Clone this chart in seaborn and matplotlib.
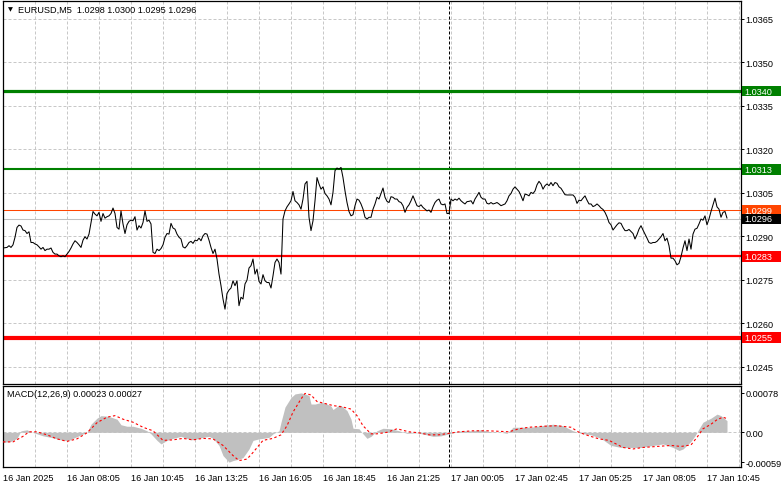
import numpy as np
import pandas as pd
import matplotlib
matplotlib.use("Agg")
import matplotlib.pyplot as plt
import matplotlib.transforms as mtransforms
from matplotlib.patches import Rectangle
import seaborn as sns

# ---------------- data ----------------
symbol_title = "EURUSD,M5  1.0298 1.0300 1.0295 1.0296"
macd_title = "MACD(12,26,9) 0.00023 0.00027"
start_time = "2025-01-16 05:25"

close = [
    1.02859, 1.02860, 1.02861, 1.02867, 1.02861, 1.02870, 1.02896, 1.02930, 1.02938, 1.02935,
    1.02921, 1.02919, 1.02909, 1.02915, 1.02878, 1.02878, 1.02873, 1.02870, 1.02863, 1.02855,
    1.02861, 1.02850, 1.02855, 1.02855, 1.02859, 1.02844, 1.02838, 1.02838, 1.02832, 1.02829,
    1.02832, 1.02829, 1.02838, 1.02847, 1.02859, 1.02873, 1.02884, 1.02878, 1.02870, 1.02861,
    1.02886, 1.02898, 1.02890, 1.02907, 1.02947, 1.02985, 1.02976, 1.02970, 1.02982, 1.02951,
    1.02978, 1.02962, 1.02967, 1.02970, 1.02978, 1.02997, 1.02978, 1.02930, 1.02924, 1.02987,
    1.02942, 1.02909, 1.02939, 1.02951, 1.02955, 1.02953, 1.02967, 1.02921, 1.02936, 1.02928,
    1.02947, 1.02987, 1.02951, 1.02955, 1.02942, 1.02844, 1.02840, 1.02855, 1.02850, 1.02857,
    1.02870, 1.02896, 1.02909, 1.02907, 1.02944, 1.02928, 1.02924, 1.02907, 1.02896, 1.02890,
    1.02863, 1.02859, 1.02867, 1.02878,
    1.02882, 1.02875, 1.02886, 1.02884, 1.02893, 1.02884, 1.02901, 1.02909, 1.02907, 1.02886,
    1.02861, 1.02840, 1.02855, 1.02821, 1.02769, 1.02729, 1.02683, 1.02648, 1.02702, 1.02714,
    1.02721, 1.02746, 1.02729, 1.02746, 1.02660, 1.02689, 1.02683, 1.02735, 1.02748, 1.02790,
    1.02798, 1.02821, 1.02769, 1.02786, 1.02744, 1.02735, 1.02767, 1.02746, 1.02740, 1.02740,
    1.02721, 1.02763, 1.02809, 1.02821, 1.02809, 1.02769, 1.02959, 1.02987, 1.03001, 1.03011,
    1.03022, 1.03054, 1.03022, 1.03016, 1.03008, 1.02993, 1.03028, 1.03080, 1.03089, 1.02965,
    1.02919, 1.02953, 1.03022, 1.03102, 1.03080, 1.03062, 1.03070, 1.03047, 1.03039, 1.03028,
    1.03008, 1.03051, 1.03126, 1.03135, 1.03131, 1.03137, 1.03102, 1.03056, 1.03016, 1.02985,
    1.02970, 1.02974, 1.03005, 1.03028, 1.03024, 1.03011, 1.02993, 1.02965, 1.02959, 1.02965,
    1.02965, 1.02993, 1.03011,
    1.03034, 1.03028, 1.03047, 1.03066, 1.03034, 1.03020, 1.03016, 1.03036, 1.03034, 1.03028,
    1.03028, 1.03019, 1.03016, 1.03005, 1.02982, 1.02999, 1.03008, 1.03022, 1.03039, 1.03022,
    1.03005, 1.03002, 1.03008, 1.02999, 1.02993, 1.02987, 1.02990, 1.02982, 1.03001, 1.03016,
    1.03024, 1.03028, 1.03011, 1.03008, 1.03011, 1.02978, 1.02978, 1.03028, 1.03022, 1.03028,
    1.03024, 1.03031, 1.03022, 1.03016, 1.03011, 1.03019, 1.03020, 1.03022, 1.03011, 1.03028,
    1.03039, 1.03051, 1.03034, 1.03028, 1.03028, 1.03013, 1.03011, 1.03016, 1.03011, 1.03013,
    1.03016, 1.03011, 1.03005, 1.03008, 1.03011, 1.03022, 1.03039, 1.03047, 1.03062, 1.03070,
    1.03062, 1.03054, 1.03039, 1.03022, 1.03045, 1.03043, 1.03039, 1.03051, 1.03047, 1.03056,
    1.03077, 1.03089, 1.03080, 1.03062, 1.03074, 1.03080, 1.03074, 1.03085, 1.03074, 1.03085,
    1.03082, 1.03070,
    1.03065, 1.03054, 1.03043, 1.03042, 1.03042, 1.03042, 1.03042, 1.03034, 1.03013, 1.03024,
    1.03022, 1.03031, 1.03039, 1.03024, 1.03011, 1.03011, 1.03002, 1.03005, 1.03011, 1.03005,
    1.02997, 1.02992, 1.02982, 1.02967, 1.02947, 1.02939, 1.02921, 1.02930, 1.02939, 1.02946,
    1.02944, 1.02930, 1.02919, 1.02919, 1.02923, 1.02916, 1.02909, 1.02890, 1.02905, 1.02924,
    1.02936, 1.02921, 1.02907, 1.02893, 1.02878, 1.02875, 1.02878, 1.02878, 1.02882, 1.02890,
    1.02898, 1.02909, 1.02884, 1.02893, 1.02867, 1.02824, 1.02824, 1.02815, 1.02801, 1.02806,
    1.02829, 1.02859, 1.02884, 1.02850, 1.02890, 1.02855, 1.02907, 1.02924, 1.02927, 1.02942,
    1.02959, 1.02955, 1.02970, 1.02939, 1.02959, 1.02985, 1.03008, 1.03031, 1.03001, 1.02993,
    1.02965, 1.02982, 1.02985, 1.02962,
]

level_values = [1.0340, 1.0313, 1.0283, 1.0255]
ask_price = 1.0299
bid_price = 1.0296

hist_bars = [0, 4, 7, 9, 12, 14, 17, 20, 24, 27, 30, 33, 35, 39, 42, 44, 47, 49, 52, 54,
             57, 59, 62, 65, 69, 72, 74, 77, 79, 82, 84, 87, 89, 92, 94, 97, 100, 103, 105, 108,
             110, 113, 115, 118, 120, 123, 125, 128, 130, 133, 135, 138, 139, 141, 144, 146, 149, 151, 153, 154,
             156, 159, 161, 164, 165, 168, 169, 172, 174, 175, 178, 180, 182, 184, 187, 190, 194, 198, 202, 207,
             212, 215, 219, 224, 229, 234, 239, 244, 249, 252, 255, 259, 264, 269, 275, 280, 285, 289, 294, 299,
             304, 309, 314, 319, 325, 330, 335, 338, 340, 344, 346, 348, 350, 354, 357, 359, 362]
macd_hist = [-0.00020, -0.00018, -0.00012, 0.00003, 0.00005, 0.00001, -0.00003, -0.00007, -0.00010, -0.00013,
             -0.00016, -0.00016, -0.00012, -0.00005, 0.00000, 0.00016, 0.00028, 0.00033, 0.00032, 0.00030,
             0.00026, 0.00015, 0.00012, 0.00012, 0.00008, 0.00003, -0.00003, -0.00016, -0.00023, -0.00016,
             -0.00013, -0.00010, -0.00008, -0.00012, -0.00015, -0.00013, -0.00010, -0.00008, -0.00012, -0.00026,
             -0.00046, -0.00059, -0.00056, -0.00053, -0.00050, -0.00033, -0.00016, -0.00013, -0.00012, -0.00010,
             -0.00003, 0.00003, 0.00020, 0.00050, 0.00069, 0.00076, 0.00078, 0.00076, 0.00073, 0.00056,
             0.00056, 0.00059, 0.00058, 0.00052, 0.00045, 0.00054, 0.00053, 0.00043, 0.00026, 0.00008,
             0.00007, -0.00003, -0.00012, -0.00008, 0.00003, 0.00008, 0.00007, 0.00003, -0.00002, -0.00001,
             -0.00005, -0.00008, -0.00007, -0.00002, 0.00003, 0.00003, 0.00005, 0.00001, 0.00000, -0.00002,
             0.00010, 0.00010, 0.00010, 0.00013, 0.00016, 0.00013, 0.00003, -0.00002, -0.00005, -0.00012,
             -0.00026, -0.00030, -0.00030, -0.00030, -0.00026, -0.00023, -0.00030, -0.00036, -0.00033, -0.00018,
             -0.00007, 0.00007, 0.00020, 0.00028, 0.00036, 0.00033, 0.00023]

signal_bars = [0, 5, 10, 13, 17, 22, 27, 32, 37, 42, 47, 52, 56, 60, 65, 70, 75, 80, 85, 90,
               95, 100, 105, 110, 115, 118, 122, 125, 130, 135, 139, 142, 145, 149, 151, 154, 157, 160, 165, 170,
               174, 177, 180, 184, 187, 192, 197, 203, 208, 213, 218, 223, 228, 235, 242, 248, 253, 258, 263, 270,
               277, 284, 288, 293, 298, 303, 310, 315, 320, 327, 334, 339, 344, 347, 350, 354, 357, 360, 362]
macd_signal = [-0.00019, -0.00019, -0.00008, 0.00001, 0.00001, -0.00005, -0.00013, -0.00018, -0.00013, -0.00001,
               0.00019, 0.00030, 0.00033, 0.00026, 0.00020, 0.00010, 0.00003, -0.00016, -0.00015, -0.00012,
               -0.00015, -0.00012, -0.00013, -0.00026, -0.00046, -0.00056, -0.00053, -0.00040, -0.00016, -0.00012,
               -0.00005, 0.00013, 0.00040, 0.00066, 0.00077, 0.00074, 0.00061, 0.00058, 0.00053, 0.00050,
               0.00046, 0.00033, 0.00013, -0.00003, -0.00003, 0.00000, 0.00007, 0.00001, -0.00001, -0.00005,
               -0.00005, -0.00002, 0.00001, 0.00003, 0.00003, 0.00002, 0.00001, 0.00007, 0.00010, 0.00012,
               0.00013, 0.00010, 0.00000, -0.00007, -0.00013, -0.00016, -0.00030, -0.00033, -0.00030, -0.00028,
               -0.00026, -0.00028, -0.00025, -0.00010, 0.00007, 0.00016, 0.00025, 0.00030, 0.00027]

price_ticks = [1.0365, 1.0350, 1.0335, 1.0320, 1.0305, 1.0290, 1.0275, 1.0260, 1.0245]
macd_ticks = [0.00078, 0.0, -0.00059]
macd_tick_labels = ["0.00078", "0.00", "-0.00059"]
x_tick_labels = ["16 Jan 2025", "16 Jan 08:05", "16 Jan 10:45", "16 Jan 13:25", "16 Jan 16:05",
                 "16 Jan 18:45", "16 Jan 21:25", "17 Jan 00:05", "17 Jan 02:45", "17 Jan 05:25",
                 "17 Jan 08:05", "17 Jan 10:45"]

# ---------------- styles ----------------
level_colors = ["#008000", "#008000", "#FF0000", "#FF0000"]
level_widths = [2.3, 1.5, 1.6, 3.0]
GRID = "#C8C8C8"
FS = 6.6

sns.set_style("white")
plt.rcParams["font.family"] = ["Liberation Sans", "DejaVu Sans"]
plt.rcParams["font.size"] = FS

W, H = 781, 489
fig = plt.figure(figsize=(W / 100, H / 100), dpi=100)
fig.patch.set_facecolor("white")

def px_rect(l, t, r, b):
    return [l / W, (H - b) / H, (r - l) / W, (b - t) / H]

ax = fig.add_axes(px_rect(2.5, 1.5, 740.5, 384.5))
ax2 = fig.add_axes(px_rect(2.5, 386.5, 740.5, 468.0))

bars = np.arange(len(close))
times = pd.date_range(start_time, periods=len(close), freq="5min")
day_sep = int(np.argmax(times.normalize() > times[0].normalize()))

xlim = (-0.25, 368.75)
for a in (ax, ax2):
    a.set_xlim(*xlim)
    a.set_facecolor("white")
    for s in a.spines.values():
        s.set_color("black")
        s.set_linewidth(0.9)
    # vertical grid every 16 bars
    for gx in range(16, 369, 16):
        a.axvline(gx, color=GRID, lw=0.72, ls=(0, (3, 2)), zorder=0)
    a.axvline(day_sep, color="black", lw=0.72, ls=(0, (3, 2)), zorder=1)

# ---------------- main price panel ----------------
ax.set_ylim(1.023915, 1.03713)
for v in price_ticks:
    ax.axhline(v, color=GRID, lw=0.72, ls=(0, (3, 2)), zorder=0)

for v, c, w in zip(level_values, level_colors, level_widths):
    ax.axhline(v, color=c, lw=w, zorder=2)
ax.axhline(ask_price, color="#FF4500", lw=0.75, zorder=2)
ax.axhline(bid_price, color="#C0C0C0", lw=0.75, zorder=2)

sns.lineplot(x=bars, y=close, ax=ax, color="black", linewidth=0.75, zorder=3)

ax.yaxis.tick_right()
ax.set_yticks(price_ticks)
ax.set_yticklabels([f"{v:.4f}" for v in price_ticks])
ax.tick_params(axis="y", direction="out", length=2.2, width=0.7, pad=1.2, labelsize=FS, colors="black")
ax.set_xticks([])
ax.set_xlabel("")
ax.set_ylabel("")

# coloured price boxes on the right scale
blend = mtransforms.blended_transform_factory(ax.transAxes, ax.transData)
axw = 738.0
half_h = 5.2 * 0.0000345
box_items = list(zip(level_values, level_colors)) + [(ask_price, "#FF4500"), (bid_price, "#000000")]
for v, c in box_items:
    ax.add_patch(Rectangle((1.0 + 1.0 / axw, v - half_h), 41.0 / axw, 2 * half_h,
                           transform=blend, facecolor=c, edgecolor="none", clip_on=False, zorder=5))
    ax.text(1.0 + 4.2 / axw, v, f"{v:.4f}", transform=blend, color="white", fontsize=FS,
            ha="left", va="center", clip_on=False, zorder=6)

ax.text(5.5 / axw, 1 - 8.5 / 383, "\u25BC", transform=ax.transAxes, fontsize=4.6,
        family=["DejaVu Sans"], ha="left", va="center", color="black")
ax.text(15.5 / axw, 1 - 8.5 / 383, symbol_title, transform=ax.transAxes, fontsize=FS,
        ha="left", va="center", color="black")

# ---------------- MACD panel ----------------
ax2.set_ylim(-0.000687, 0.000927)
ax2.axhline(0, color=GRID, lw=0.72, ls=(0, (3, 2)), zorder=0)
ax2.fill_between(hist_bars, 0, macd_hist, color="#C0C0C0", linewidth=0, zorder=2)
sns.lineplot(x=signal_bars, y=macd_signal, ax=ax2, color="#FF0000", linewidth=0.8, zorder=3)
for ln in ax2.get_lines()[-1:]:
    ln.set_linestyle((0, (2.2, 2.2)))

ax2.yaxis.tick_right()
ax2.set_yticks(macd_ticks)
ax2.set_yticklabels(macd_tick_labels)
ax2.tick_params(axis="y", direction="out", length=2.2, width=0.7, pad=1.2, labelsize=FS, colors="black")
ax2.set_xticks([32 * i for i in range(len(x_tick_labels))])
ax2.set_xticklabels(x_tick_labels)
ax2.tick_params(axis="x", direction="out", length=3.0, width=0.7, pad=1.0, labelsize=FS, colors="black")
for lbl in ax2.get_xticklabels():
    lbl.set_horizontalalignment("left")
ax2.set_xlabel("")
ax2.set_ylabel("")
ax2.text(4.5 / axw, 1 - 8.5 / 81.5, macd_title, transform=ax2.transAxes, fontsize=FS,
         ha="left", va="center", color="black")

fig.savefig("out.png", dpi=100, facecolor="white")
